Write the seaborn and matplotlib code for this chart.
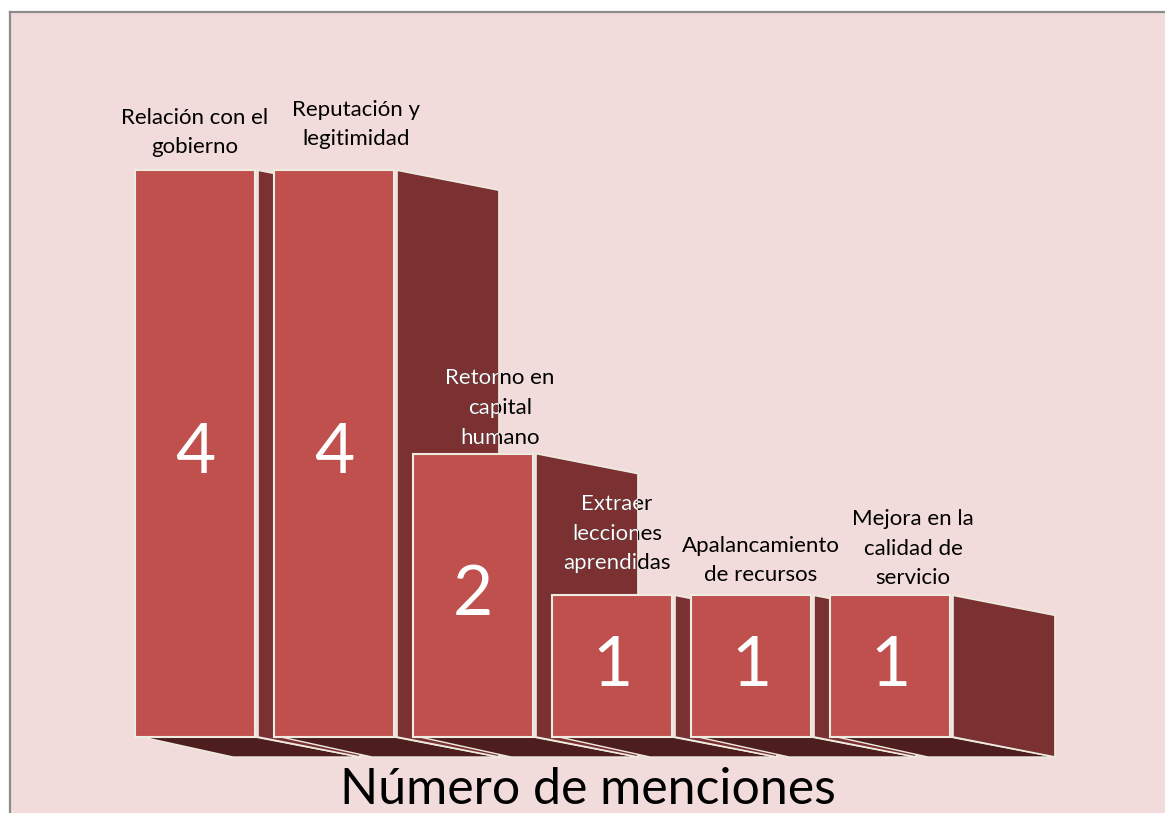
import matplotlib
matplotlib.use("Agg")
import matplotlib.pyplot as plt
from matplotlib.patches import Polygon
from matplotlib.transforms import Bbox, TransformedBbox
import seaborn as sns

# Categories and number of mentions
categories = [
    "Relación con el\ngobierno",
    "Reputación y\nlegitimidad",
    "Retorno en\ncapital\nhumano",
    "Extraer\nlecciones\naprendidas",
    "Apalancamiento\nde recursos",
    "Mejora en la\ncalidad de\nservicio",
]
values = [4, 4, 2, 1, 1, 1]
value_labels = ["4", "4", "2", "1", "1", "1"]
axis_title = "Número de menciones"

# label nudges (pixels) so each caption sits where the layout places it
label_shift_x = [0, 22, 27, 5, 10, 23]
label_shift_y = [5, 13, -2, 14, 2, -1]

FRONT = "#C0504D"
SIDE = "#7B3131"
FLOOR = "#4E1E1E"
EDGE = "#EEECE1"
PANEL = "#F2DCDB"

sns.set_theme(style="white")
plt.rcParams["font.family"] = ["Lato", "DejaVu Sans"]

W, H = 1165, 813
fig = plt.figure(figsize=(W / 100, H / 100), dpi=100, facecolor="white")
ax = fig.add_axes([10 / W, 0, 1155 / W, 801 / H])
ax.set_facecolor(PANEL)

bar_width = 0.863
sns.barplot(x=categories, y=values, color=FRONT, saturation=1, width=bar_width,
            edgecolor=EDGE, linewidth=1.5, ax=ax)

# scale: 139 px per category, 141.7 px per mention
px_x, px_y = 139.0, 141.7
ax.set_xlim(-185 / px_x, -185 / px_x + 1155 / px_x)
ax.set_ylim(-76 / px_y, -76 / px_y + 801 / px_y)

# pseudo-3D depth of each block
dx, dy = 102 / px_x, -20 / px_y
floor_dx = 98 / px_x
inset = 7 / px_x
gap = 3 / px_x

bars = list(ax.containers[0])
side_boxes = []
for i, rect in enumerate(bars):
    x0 = rect.get_x()
    x1 = x0 + rect.get_width()
    h = rect.get_height()
    floor = Polygon([(x0 + inset, 0), (x1, 0), (x1 + gap + dx, dy), (x0 + floor_dx, dy)],
                    closed=True, fc=FLOOR, ec=EDGE, lw=1.0, zorder=3 * i + 2)
    side = Polygon([(x1 + gap, h), (x1 + gap + dx, h + dy), (x1 + gap + dx, dy), (x1 + gap, 0)],
                   closed=True, fc=SIDE, ec=EDGE, lw=1.2, zorder=3 * i + 3)
    ax.add_patch(floor)
    ax.add_patch(side)
    rect.set_zorder(3 * i + 4)
    side_boxes.append(TransformedBbox(Bbox([[x1 + gap, dy], [x1 + gap + dx, h]]), ax.transData))

pt = 0.72  # points per pixel at 100 dpi
for i, rect in enumerate(bars):
    cx = rect.get_x() + rect.get_width() / 2
    h = rect.get_height()
    kw = dict(xy=(cx, h), textcoords="offset points",
              xytext=(label_shift_x[i] * pt, (8 + label_shift_y[i]) * pt),
              ha="center", va="bottom", fontsize=16, linespacing=1.6,
              multialignment="center")
    ax.annotate(categories[i], color="black", zorder=50, **kw)
    if i > 0:
        # part of the caption lying over the previous block's side turns white
        t = ax.annotate(categories[i], color="white", zorder=51, **kw)
        t.set_clip_on(True)
        t.set_clip_box(side_boxes[i - 1])
    ax.text(cx, h / 2, value_labels[i], ha="center", va="center", fontsize=50,
            color="white", zorder=52)

ax.text(0.5, 23 / 801, axis_title, transform=ax.transAxes, ha="center", va="center",
        fontsize=36, color="black", zorder=60)

ax.set_xlabel("")
ax.set_ylabel("")
ax.set_xticks([])
ax.set_yticks([])
for s in ("right", "bottom"):
    ax.spines[s].set_visible(False)
for s in ("left", "top"):
    ax.spines[s].set_color("#8C8C8C")
    ax.spines[s].set_linewidth(1.6)

fig.savefig("out.png", dpi=100, facecolor="white")
